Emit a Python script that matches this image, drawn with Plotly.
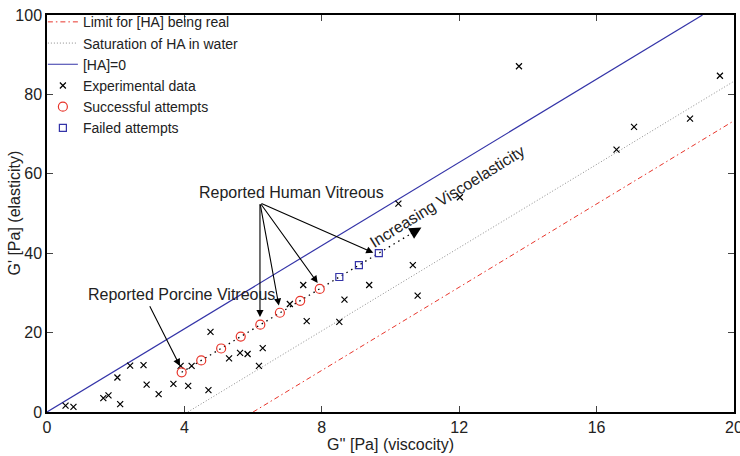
import plotly.graph_objects as go

# ---------------- data ----------------
exp_gpp = [0.54, 0.77, 1.64, 1.79, 2.13, 2.05, 2.42, 2.81, 2.90, 3.25, 3.68, 3.89, 4.21, 4.11,
           4.70, 4.76, 5.30, 5.62, 5.84, 6.17, 6.28, 7.07, 7.46, 7.56, 8.51, 8.66, 9.38,
           10.23, 10.65, 10.79, 12.02, 13.74, 16.58, 17.09, 18.72, 19.59]
exp_gp = [1.6, 1.3, 3.5, 4.2, 2.0, 8.7, 11.7, 11.8, 6.9, 4.5, 7.1, 11.6, 11.6, 6.6,
          5.5, 20.2, 13.5, 14.9, 14.6, 11.6, 16.1, 27.2, 32.0, 22.9, 22.7, 28.3, 32.0,
          52.5, 37.0, 29.3, 54.1, 87.1, 66.1, 71.8, 73.9, 84.7]

ok_gpp = [3.92, 4.49, 5.07, 5.64, 6.21, 6.78, 7.37, 7.94]
ok_gp = [10.0, 13.0, 16.0, 19.0, 22.0, 25.0, 28.0, 31.0]

fail_gpp = [8.51, 9.08, 9.66]
fail_gp = [34.0, 37.0, 40.0]

# boundary lines: G' = slope * (G'' - offset)
line_slope = 5.24
ha_zero_offset = 0.0
saturation_offset = 4.1
limit_offset = 6.0
gpp_max = 20.0

# trend (increasing viscoelasticity) path
trend_gpp = [3.92, 10.9]
trend_gp = [10.0, 46.5]

x_ticks = [0, 4, 8, 12, 16, 20]
y_ticks = [0, 20, 40, 60, 80, 100]

# annotation anchors
human_label = (7.12, 55.2)
human_origin = (6.2, 52.7)
human_tips_gpp = [6.2, 6.75, 7.88, 9.50]
human_tips_gp = [23.9, 26.8, 32.5, 40.1]
porcine_label = (3.92, 29.6)
porcine_origin = (2.97, 27.0)
porcine_tip = (3.87, 11.6)
trend_label = (11.65, 54.3)

# ---------------- figure ----------------
def line_pts(offset):
    x0 = offset
    y_end = line_slope * (gpp_max - offset)
    if y_end > 100:
        return [x0, offset + 100 / line_slope], [0, 100]
    return [x0, gpp_max], [0, y_end]

BLUE = "#3434A8"
RED = "#E8352B"
FONT = "Liberation Sans, Arial, sans-serif"

fig = go.Figure()

lx, ly = line_pts(limit_offset)
fig.add_trace(go.Scatter(x=lx, y=ly, mode="lines", name="Limit for [HA] being real",
                         line=dict(color=RED, width=1, dash="5px,3px,1.5px,3px")))
sx, sy = line_pts(saturation_offset)
fig.add_trace(go.Scatter(x=sx, y=sy, mode="lines", name="Saturation of HA in water",
                         line=dict(color="#8c8c8c", width=1, dash="1px,2px")))
zx, zy = line_pts(ha_zero_offset)
fig.add_trace(go.Scatter(x=zx, y=zy, mode="lines", name="[HA]=0",
                         line=dict(color=BLUE, width=1.2)))

fig.add_trace(go.Scatter(x=trend_gpp, y=trend_gp, mode="lines", showlegend=False,
                         line=dict(color="black", width=1.3, dash="1.5px,4px")))

fig.add_trace(go.Scatter(x=exp_gpp, y=exp_gp, mode="markers", name="Experimental data",
                         marker=dict(symbol="x-thin", size=6, color="black",
                                     line=dict(color="black", width=1.2))))
fig.add_trace(go.Scatter(x=ok_gpp, y=ok_gp, mode="markers", name="Successful attempts",
                         marker=dict(symbol="circle-open", size=9, color=RED,
                                     line=dict(color=RED, width=1.2))))
fig.add_trace(go.Scatter(x=fail_gpp, y=fail_gp, mode="markers", name="Failed attempts",
                         marker=dict(symbol="square-open", size=7, color=BLUE,
                                     line=dict(color=BLUE, width=1.2))))

ann = []
ann.append(dict(x=human_label[0], y=human_label[1], text="Reported Human Vitreous",
                showarrow=False, font=dict(size=16, family=FONT, color="#222")))
for tx, ty in zip(human_tips_gpp, human_tips_gp):
    ann.append(dict(x=tx, y=ty, ax=human_origin[0], ay=human_origin[1], axref="x", ayref="y",
                    text="", showarrow=True, arrowhead=2, arrowsize=1.3, arrowwidth=1.1,
                    arrowcolor="black", standoff=0, startstandoff=0))
ann.append(dict(x=porcine_label[0], y=porcine_label[1], text="Reported Porcine Vitreous",
                showarrow=False, font=dict(size=16, family=FONT, color="#222")))
ann.append(dict(x=porcine_tip[0], y=porcine_tip[1], ax=porcine_origin[0], ay=porcine_origin[1],
                axref="x", ayref="y", text="", showarrow=True, arrowhead=2, arrowsize=1.3,
                arrowwidth=1.1, arrowcolor="black", standoff=0, startstandoff=0))
ann.append(dict(x=trend_gpp[1], y=trend_gp[1], ax=-12, ay=7, text="", showarrow=True,
                arrowhead=2, arrowsize=2.0, arrowwidth=1.2, arrowcolor="black", standoff=0))
ann.append(dict(x=trend_label[0], y=trend_label[1], text="Increasing Viscoelasticity",
                showarrow=False, textangle=-31.8, font=dict(size=16, family=FONT, color="#222")))
ann.append(dict(x=-0.048, y=0.5, xref="paper", yref="paper", text="G' [Pa] (elasticity)",
                showarrow=False, textangle=-90, xanchor="center", yanchor="middle",
                font=dict(size=16, family=FONT, color="#222")))

fig.update_layout(
    width=740, height=456,
    margin=dict(l=47, r=6, t=6, b=44),
    paper_bgcolor="white", plot_bgcolor="white",
    font=dict(family=FONT, size=16, color="#222"),
    showlegend=True,
    legend=dict(x=-0.006, y=1.022, xanchor="left", yanchor="top", bgcolor="rgba(0,0,0,0)",
                borderwidth=0, font=dict(size=14, family=FONT, color="#222"),
                tracegroupgap=0, itemwidth=30),
    annotations=ann,
)
fig.update_xaxes(range=[0, 20], tickvals=x_ticks, ticks="inside", ticklen=6, tickwidth=1,
                 showline=True, linecolor="black", linewidth=1.5, mirror="allticks",
                 showgrid=False, zeroline=False, automargin=False, ticklabeloverflow="allow",
                 title=dict(text="G'' [Pa] (viscocity)", font=dict(size=16), standoff=2),
                 tickfont=dict(size=16))
fig.update_yaxes(range=[0, 100], tickvals=y_ticks, ticks="inside", ticklen=6, tickwidth=1,
                 showline=True, linecolor="black", linewidth=1.5, mirror="allticks",
                 showgrid=False, zeroline=False, automargin=False, ticklabeloverflow="allow",
                 tickfont=dict(size=16))

fig.write_html("out.html", config={"displayModeBar": False},
               post_script="document.body.style.margin='0';")
